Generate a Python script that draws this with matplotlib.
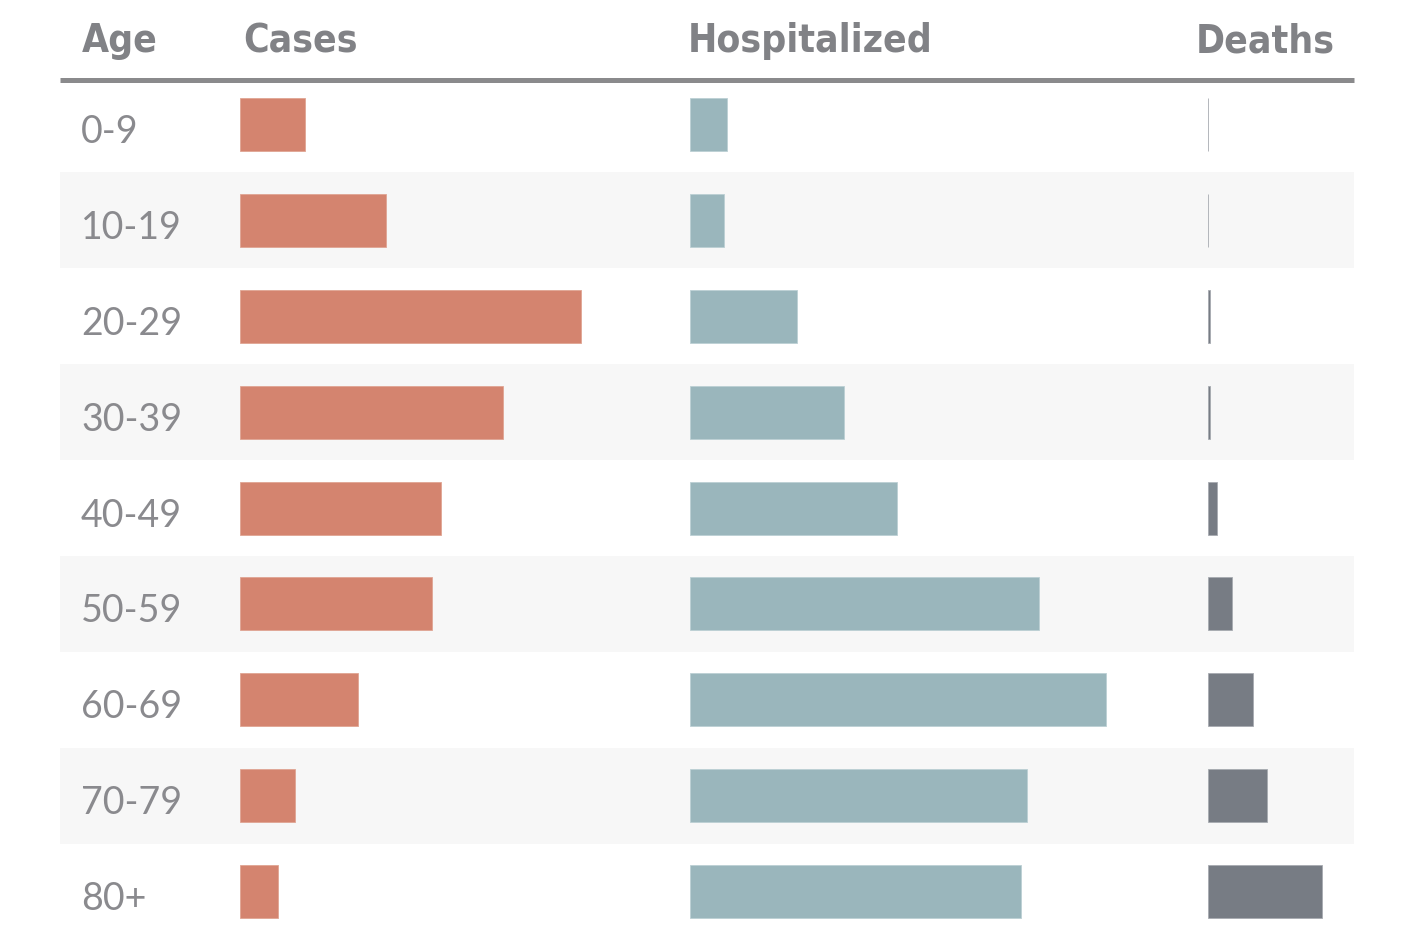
import numpy as np
import matplotlib.pyplot as plt

# data: share of total (%) per age group
ages = ['0-9', '10-19', '20-29', '30-39', '40-49', '50-59', '60-69', '70-79', '80+']
cases = [4.6, 10.3, 24.0, 18.5, 14.2, 13.5, 8.3, 3.9, 2.7]
hospitalized = [1.9, 1.7, 5.4, 7.8, 10.5, 17.7, 21.1, 17.1, 16.8]
deaths = [0.1, 0.1, 0.6, 0.9, 3.4, 9.5, 17.6, 23.1, 44.7]
headers = ['Age', 'Cases', 'Hospitalized', 'Deaths']

W, H = 1419, 946
c_case = '#d4846f'
c_hosp = '#9ab6bc'
c_death = '#777c84'
c_text = '#8a8a8e'

fig = plt.figure(figsize=(W/100, H/100), dpi=100)

# row geometry (pixels)
y0 = 124.5; pitch = 95.875
ylim = ((H - y0)/pitch, (0 - y0)/pitch)
n = len(ages)
rows = np.arange(n)

bg = fig.add_axes([0, 0, 1, 1])
bg.set_xlim(0, W); bg.set_ylim(*ylim); bg.axis('off')
for i in rows:
    if i % 2 == 1:
        bg.fill_between([60, 1354], i-0.5, i+0.5, color='#f7f7f7', lw=0)
# header line
bg.plot([60, 1354], [(79.5-y0)/pitch]*2, color='#8a8a8c', lw=3.6, solid_capstyle='butt')

# header texts
hx = [82, 243, 688, 1196]
for t, x in zip(headers, hx):
    bg.text(x, (52-y0)/pitch, t, fontsize=28, fontweight='bold', fontstretch='condensed',
            color='#818286', family=['DejaVu Sans'], va='baseline', ha='left')

# age labels
for i, a in zip(rows, ages):
    bg.text(81, i + 18.5/pitch, a, fontsize=27, fontweight='normal', color=c_text,
            family=['Lato', 'DejaVu Sans'], va='baseline', ha='left')

def col_axes(x_px, w_px, px_per_unit):
    ax = fig.add_axes([x_px/W, 0, w_px/W, 1])
    ax.set_xlim(0, w_px/px_per_unit)
    ax.set_ylim(*ylim)
    ax.axis('off')
    ax.patch.set_alpha(0)
    return ax

bh = 53/pitch
ax1 = col_axes(240, 440, 14.19)
ax1.barh(rows, cases, height=bh, color=c_case, edgecolor='#e0a593', lw=0.6)
ax2 = col_axes(690, 500, 19.73)
ax2.barh(rows, hospitalized, height=bh, color=c_hosp, edgecolor='#bcd0d4', lw=0.6)
ax3 = col_axes(1208, 146, 2.556)
ax3.barh(rows, deaths, height=bh, color=c_death, edgecolor='#a7abb1', lw=0.6)

fig.savefig('out.png', dpi=100, facecolor='white')
